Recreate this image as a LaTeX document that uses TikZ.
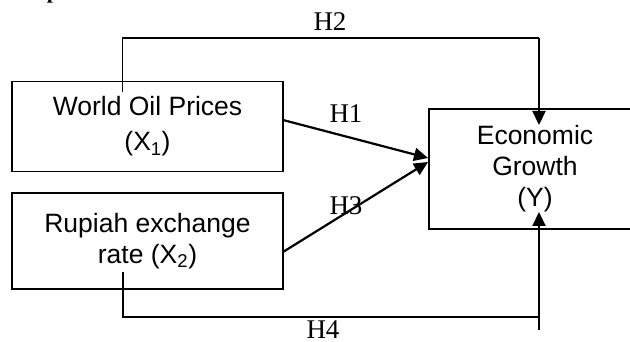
\documentclass[tikz,border=0pt]{standalone}
\usepackage{fontspec}
\setmainfont{Liberation Serif}
\newfontfamily\arialfont{Liberation Sans}
\usetikzlibrary{arrows.meta}
\begin{document}
\begin{tikzpicture}[x=1pt,y=-1pt,
  varbox/.style={draw,line width=1.4pt,inner sep=0pt,align=center,
    font=\arialfont\fontsize{26.5}{31}\selectfont},
  hlabel/.style={font=\fontsize{27}{30}\selectfont,inner sep=0pt},
  conn/.style={line width=1.5pt},
  arr/.style={line width=2.2pt,-{Triangle[length=14pt,width=13pt]}}]
\clip (0,0) rectangle (630,342);
\fill[white] (0,0) rectangle (630,342);
% heading (cut off at the top)
\node[anchor=base west,inner sep=0pt,font=\bfseries\fontsize{22}{24}\selectfont] (head) at (-12,-1) {Conceptual Framework};
% boxes
\node[varbox,minimum width=271pt,minimum height=90pt] (b1) at (147.5,126.5) {World Oil Prices\\[4pt](X\textsubscript{1})};
\node[varbox,minimum width=271pt,minimum height=96pt] (b2) at (147.5,241) {Rupiah exchange\\rate (X\textsubscript{2})};
\node[varbox,minimum width=212pt,minimum height=120pt] (y) at (535,169) {Economic\\Growth\\(Y)};
% connector points
\coordinate (h2s) at (122.5,92);
\coordinate (h2a) at (122.5,38);
\coordinate (h2b) at (539,38);
\coordinate (h2e) at (539,125);
\coordinate (h1s) at (283,120);
\coordinate (h1e) at (428,158);
\coordinate (h3s) at (283,252);
\coordinate (h3e) at (428,162);
\coordinate (h4s) at (123,272);
\coordinate (h4a) at (123,317);
\coordinate (h4b) at (539,317);
\coordinate (h4c) at (539,330);
\coordinate (h4e) at (539,212);
% H2
\draw[conn] (h2s) -- (h2a) -- (h2b);
\draw[arr] (h2b) -- (h2e);
% H1, H3
\draw[arr] (h1s) -- (h1e);
\draw[arr] (h3s) -- (h3e);
% H4
\draw[conn] (h4s) -- (h4a) -- (h4b);
\draw[arr] (h4c) -- (h4e);
% labels
\node[hlabel] (l2) at (330,22) {H2};
\node[hlabel] (l1) at (346,114) {H1};
\node[hlabel] (l3) at (346,206) {H3};
\node[hlabel] (l4) at (323,330) {H4};
\end{tikzpicture}
\end{document}
